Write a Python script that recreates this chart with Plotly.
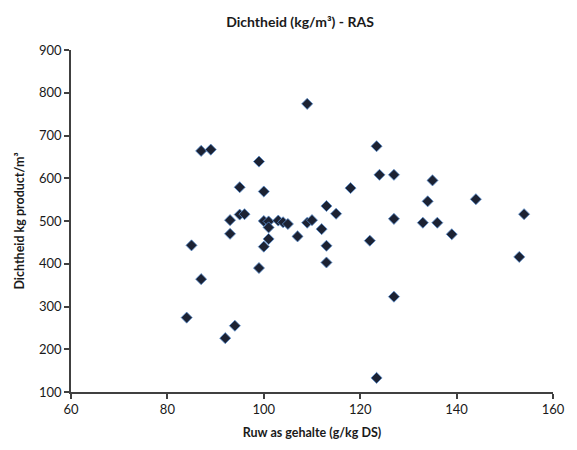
import plotly.graph_objects as go

# Ruw as gehalte (g/kg DS) versus dichtheid (kg product/m3), RAS
ruw_as = [84, 85, 87, 87, 89, 92, 93, 93, 94, 95, 95, 96, 99, 99, 100, 100, 100,
          101, 101, 101, 103, 104, 105, 107, 109, 109, 110, 112, 113, 113, 113,
          115, 118, 122, 123.4, 124, 123.4, 127, 127, 127, 133, 134, 135, 136,
          139, 144, 153, 154]
dichtheid = [274, 443, 364, 664, 667, 226, 502, 470, 255, 579, 515, 516, 639, 390,
             569, 500, 440, 499, 485, 458, 501, 497, 493, 464, 774, 496, 502, 481,
             535, 442, 403, 517, 577, 454, 675, 608, 133, 608, 505, 323, 496, 546,
             595, 496, 469, 551, 416, 516]

x_ticks = [60, 80, 100, 120, 140, 160]
y_ticks = [100, 200, 300, 400, 500, 600, 700, 800, 900]

FONT = "Lato, 'Open Sans', sans-serif"
AXIS_COLOR = "#404040"

fig = go.Figure(
    go.Scatter(
        x=ruw_as,
        y=dichtheid,
        mode="markers",
        marker=dict(symbol="diamond", size=8.5, color="#1c2233",
                    line=dict(color="#5a8fd0", width=0.8)),
        showlegend=False,
    )
)

fig.update_layout(
    width=577,
    height=450,
    margin=dict(l=71, r=22, t=50, b=56),
    paper_bgcolor="white",
    plot_bgcolor="white",
    font=dict(family=FONT, size=12, color="#1a1a1a"),
    title=dict(text="<b>Dichtheid (kg/m³) - RAS</b>", x=0.52, xanchor="center",
               y=0.95, yanchor="middle", font=dict(size=14, family=FONT)),
)

fig.update_xaxes(
    range=[60, 160], tickvals=x_ticks, showgrid=False, zeroline=False,
    showline=True, linecolor=AXIS_COLOR, linewidth=1.5,
    ticks="outside", ticklen=5, tickcolor=AXIS_COLOR, tickwidth=1.5,
    tickfont=dict(size=13, color="#1a1a1a"),
    title=dict(text="<b>Ruw as gehalte (g/kg DS)</b>", font=dict(size=12.5), standoff=12),
)
fig.update_yaxes(
    range=[100, 900], tickvals=y_ticks, showgrid=False, zeroline=False,
    showline=True, linecolor=AXIS_COLOR, linewidth=1.5,
    ticks="outside", ticklen=5, tickcolor=AXIS_COLOR, tickwidth=1.5,
    tickfont=dict(size=13, color="#1a1a1a"),
    title=dict(text="<b>Dichtheid kg product/m³</b>", font=dict(size=12.5), standoff=12),
)

fig.write_html("out.html")
